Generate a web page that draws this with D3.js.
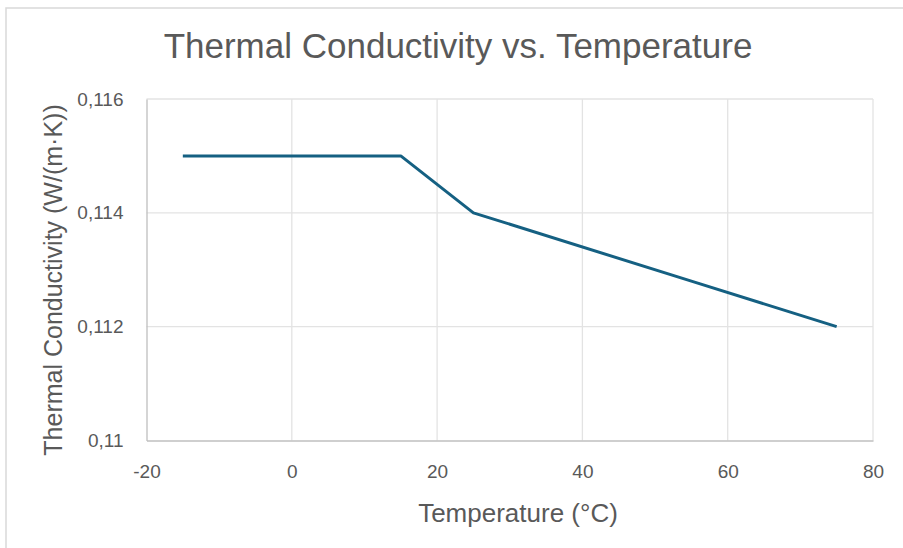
<!DOCTYPE html>
<html>
<head>
<meta charset="utf-8">
<script src="https://cdn.jsdelivr.net/npm/d3@7"></script>
<style>
  body { margin: 0; background: #fff; }
  svg { display: block; font-family: "Liberation Sans", Arial, sans-serif; }
</style>
</head>
<body>
<svg id="chart" width="903" height="548"></svg>
<script>
// data
const temps = [-15, 15, 25, 55, 75];
const conductivity = [0.115, 0.115, 0.114, 0.1128, 0.112];
const xTicks = [-20, 0, 20, 40, 60, 80];
const yTicks = [0.110, 0.112, 0.114, 0.116];

const svg = d3.select("#chart");
const plotLeft = 146.5, plotRight = 873, plotTop = 99, plotBottom = 440.5;

// outer chart frame (runs off right/bottom)
svg.append("rect")
  .attr("x", 6).attr("y", 8)
  .attr("width", 1000).attr("height", 1000)
  .attr("fill", "none").attr("stroke", "#d9d9d9").attr("stroke-width", 1.5);

let x = d3.scaleLinear().domain([-20, 80]).range([plotLeft, plotRight]);
let y = d3.scaleLinear().domain([0.110, 0.116]).range([plotBottom, plotTop]);

// gridlines
svg.append("g").selectAll("line").data(yTicks.slice(1)).join("line")
  .attr("x1", plotLeft).attr("x2", plotRight)
  .attr("y1", d => y(d)).attr("y2", d => y(d))
  .attr("stroke", "#e3e3e3").attr("stroke-width", 1.3);
svg.append("g").selectAll("line").data(xTicks.slice(1)).join("line")
  .attr("x1", d => x(d)).attr("x2", d => x(d))
  .attr("y1", plotTop).attr("y2", plotBottom)
  .attr("stroke", "#e3e3e3").attr("stroke-width", 1.3);

// axes
let xAxis = svg.append("g").attr("transform", `translate(0,${plotBottom})`)
  .call(d3.axisBottom(x).tickValues(xTicks).tickSize(0).tickPadding(24)
    .tickFormat(d => String(d)));
let yAxis = svg.append("g").attr("transform", `translate(${plotLeft},0)`)
  .call(d3.axisLeft(y).tickValues(yTicks).tickSize(0).tickPadding(23)
    .tickFormat(d => d3.format("~g")(d).replace(".", ",")));

[xAxis, yAxis].forEach(a => {
  a.select(".domain").attr("stroke", "#bfbfbf").attr("stroke-width", 1.3);
  a.selectAll("text").attr("fill", "#595959").style("font-size", "19px")
    .style("font-family", "'Liberation Sans', Arial, sans-serif");
});

// line
let line = d3.line().x((d, i) => x(temps[i])).y(d => y(d));
svg.append("path")
  .datum(conductivity)
  .attr("d", line)
  .attr("fill", "none")
  .attr("stroke", "#156082")
  .attr("stroke-width", 3)
  .attr("stroke-linejoin", "round");

// titles
svg.append("text")
  .attr("x", 458).attr("y", 58)
  .attr("text-anchor", "middle")
  .attr("fill", "#595959")
  .style("font-size", "35px")
  .text("Thermal Conductivity vs. Temperature");

svg.append("text")
  .attr("x", 518).attr("y", 522)
  .attr("text-anchor", "middle")
  .attr("fill", "#595959")
  .style("font-size", "26px")
  .text("Temperature (°C)");

svg.append("text")
  .attr("transform", "translate(62,280) rotate(-90)")
  .attr("text-anchor", "middle")
  .attr("fill", "#595959")
  .style("font-size", "25px")
  .text("Thermal Conductivity (W/(m·K))");
</script>
</body>
</html>
